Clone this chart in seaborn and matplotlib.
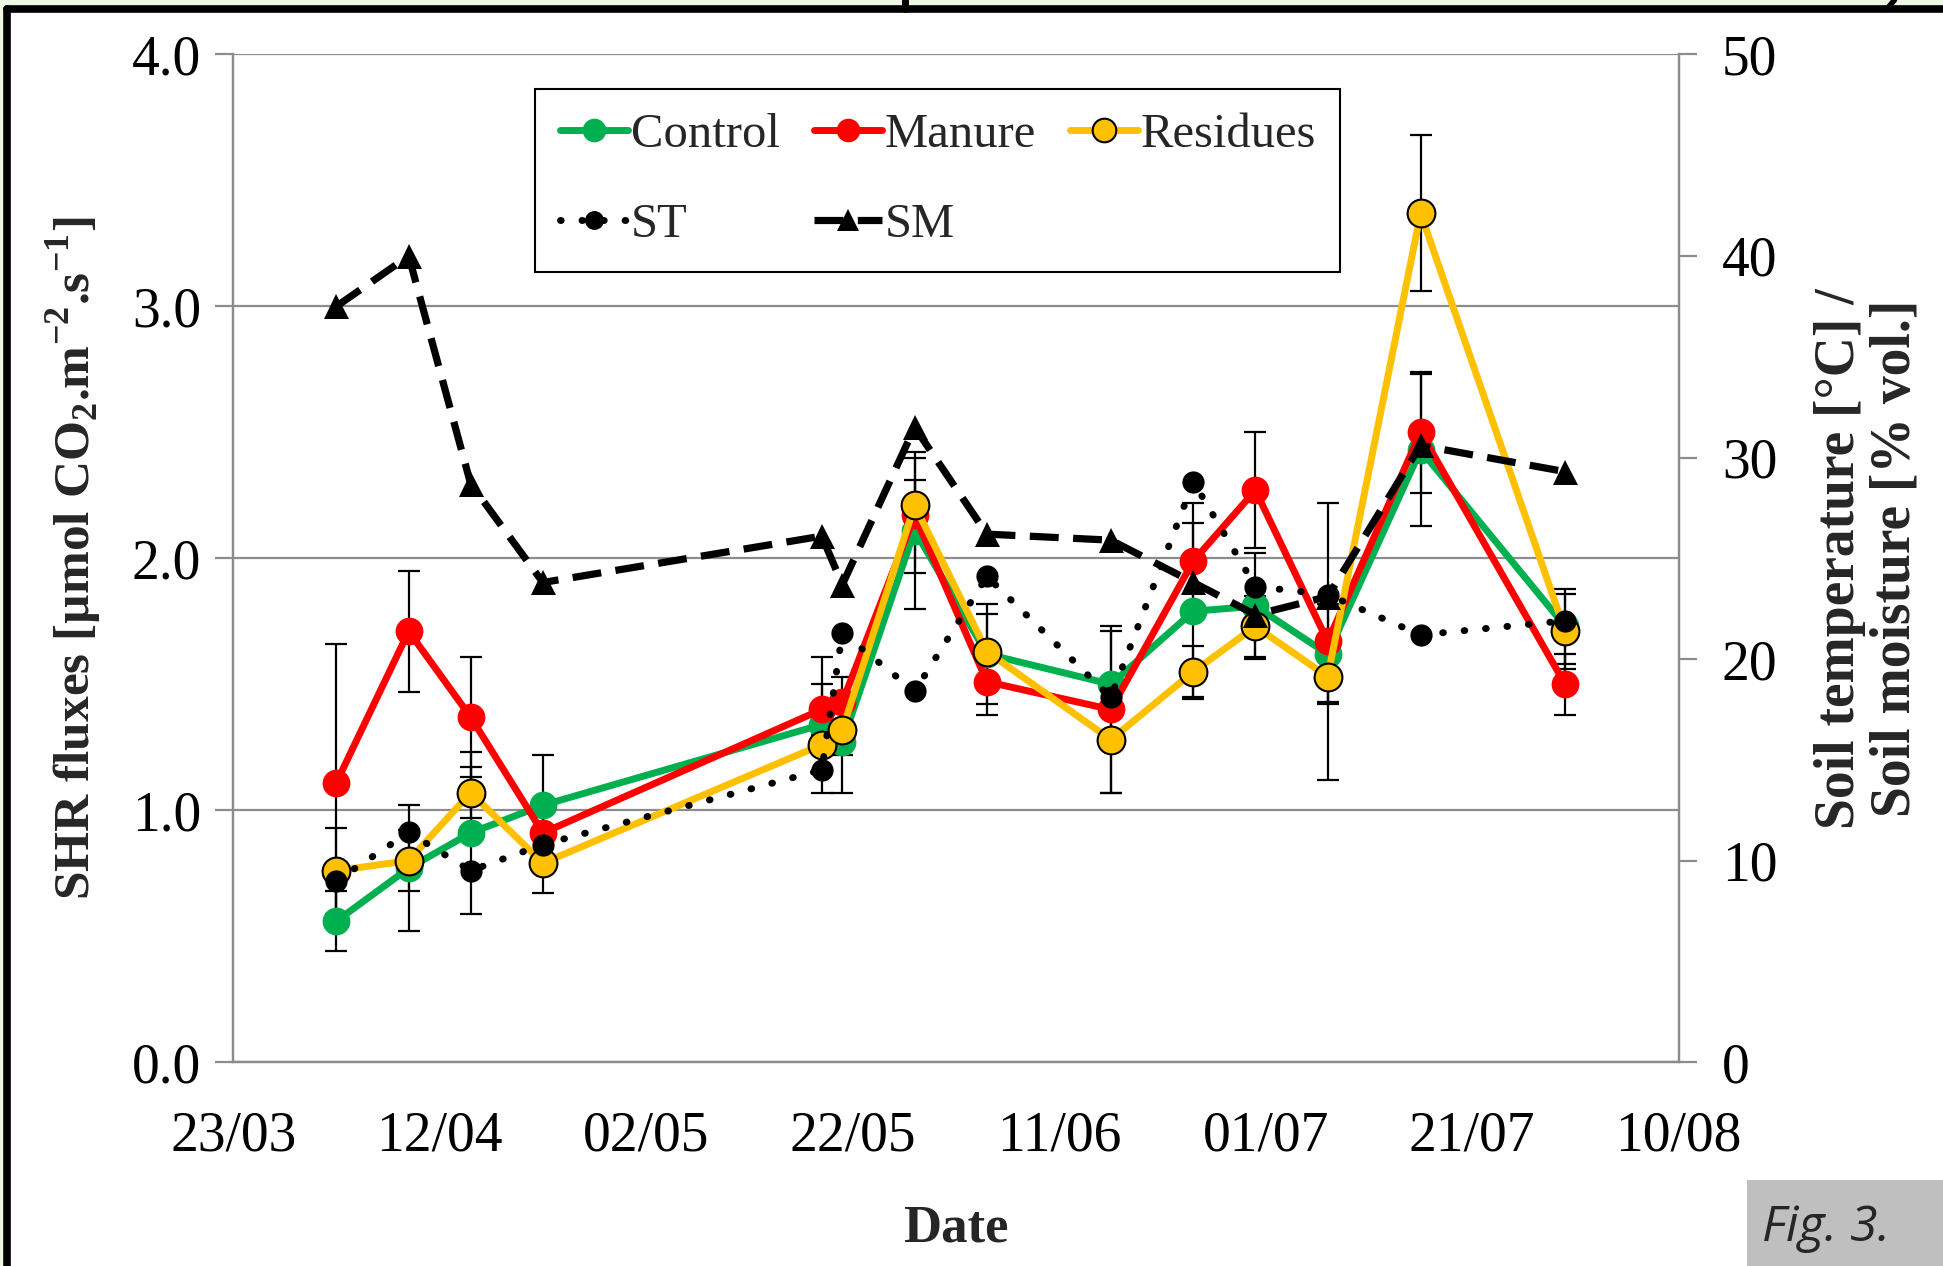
import matplotlib
matplotlib.use("Agg")
import matplotlib.pyplot as plt
import matplotlib.dates as mdates
from matplotlib.lines import Line2D
from matplotlib.patches import Rectangle
import numpy as np
import pandas as pd
import seaborn as sns

# sampling dates (2015 season)
dates = pd.to_datetime(["2015-04-02", "2015-04-09", "2015-04-15", "2015-04-22",
                        "2015-05-19", "2015-05-21", "2015-05-28", "2015-06-04",
                        "2015-06-16", "2015-06-24", "2015-06-30", "2015-07-07",
                        "2015-07-16", "2015-07-30"])

# SHR fluxes [umol CO2 m-2 s-1]
control = [0.56, 0.77, 0.91, 1.02, 1.34, 1.27, 2.11, 1.62, 1.50, 1.79, 1.81, 1.62, 2.43, 1.73]
manure = [1.11, 1.71, 1.37, 0.91, 1.40, 1.43, 2.17, 1.51, 1.40, 1.99, 2.27, 1.67, 2.50, 1.50]
residues = [0.76, 0.80, 1.07, 0.79, 1.26, 1.32, 2.21, 1.63, 1.28, 1.55, 1.73, 1.53, 3.37, 1.71]

control_err = [0.12, 0.25, 0.32, 0.20, 0.27, 0.20, 0.31, 0.20, 0.21, 0.35, 0.21, 0.20, 0.30, 0.15]
manure_err = [0.55, 0.24, 0.24, 0.10, 0.10, 0.10, 0.23, 0.13, 0.33, 0.23, 0.23, 0.55, 0.24, 0.12]
residues_err = [0.17, 0.12, 0.10, 0.12, 0.10, 0.10, 0.10, 0.15, 0.21, 0.10, 0.12, 0.10, 0.31, 0.15]

# soil temperature [degC] and soil moisture [% vol.]
st = [9.0, 11.4, 9.5, 10.8, 14.5, 21.3, 18.4, 24.1, 18.1, 28.8, 23.6, 23.2, 21.2, 21.9]
sm = [37.5, 40.0, 28.7, 23.8, 26.1, 23.7, 31.5, 26.2, 25.9, 23.8, 22.2, 23.1, 30.6, 29.3]

sns.set_style("white")
plt.rcParams["font.family"] = ["Liberation Serif", "DejaVu Serif"]
plt.rcParams["mathtext.fontset"] = "custom"
plt.rcParams["mathtext.rm"] = "Liberation Serif"
plt.rcParams["mathtext.bf"] = "Liberation Serif:bold"

GRID = "#8c8c8c"
TICK_FS = 40

fig = plt.figure(figsize=(19.43, 12.66), dpi=100)
fig.patch.set_facecolor("#eef6e4")
# white page with black frame (cropped from a larger document)
fig.patches.append(Rectangle((0.0025, 0), 1, 0.995, transform=fig.transFigure,
                             facecolor="white", edgecolor="none", zorder=-10))
fig.add_artist(Line2D([0.0035, 1], [0.9925, 0.9925], color="black", lw=5.5))
fig.add_artist(Line2D([0.0035, 0.0035], [0, 0.9925], color="black", lw=5.5))
fig.add_artist(Line2D([0.466, 0.466], [0.9925, 1], color="black", lw=5))
fig.add_artist(Line2D([0.971, 0.975], [0.9925, 1], color="black", lw=4))

ax = fig.add_axes([0.12, 0.161, 0.744, 0.796])
ax2 = ax.twinx()

treatments = [("Control", control, control_err, "#00b050", "none"),
              ("Manure", manure, manure_err, "#ff0000", "none"),
              ("Residues", residues, residues_err, "#ffc000", "black")]

for name, vals, err, col, edge in treatments:
    ax.errorbar(dates, vals, yerr=err, fmt="none", ecolor="black",
                elinewidth=1.6, capsize=8, capthick=1.6, zorder=2)
for name, vals, err, col, edge in treatments:
    sns.lineplot(x=dates, y=vals, ax=ax, color=col, linewidth=5, marker="o",
                 markersize=20, markeredgecolor=edge, markeredgewidth=1.5,
                 label=name, zorder=3)

sns.lineplot(x=dates, y=st, ax=ax2, color="black", linewidth=5,
             linestyle=(0, (0.1, 3.0)), dash_capstyle="round", marker="o",
             markersize=16, markeredgewidth=0, label="ST")
sns.lineplot(x=dates, y=sm, ax=ax2, color="black", linewidth=5.2,
             linestyle=(0, (4, 2)), marker="^", markersize=18,
             markeredgewidth=0, label="SM")

ax.set_ylim(0, 4)
ax.set_yticks(np.arange(0, 4.01, 1.0))
ax.set_yticklabels([f"{v:.1f}" for v in np.arange(0, 4.01, 1.0)])
ax2.set_ylim(0, 50)
ax2.set_yticks(range(0, 51, 10))

ax.set_xlim(pd.Timestamp("2015-03-23"), pd.Timestamp("2015-08-10"))
ticks = pd.date_range("2015-03-23", "2015-08-10", freq="20D")
ax.set_xticks(ticks)
ax.xaxis.set_major_formatter(mdates.DateFormatter("%d/%m"))

ax.yaxis.grid(True, color=GRID, lw=1.6)
ax.xaxis.grid(False)
ax.set_axisbelow(True)
for a in (ax, ax2):
    a.spines["top"].set_visible(False)
    for s in ("left", "right", "bottom"):
        a.spines[s].set_color(GRID)
        a.spines[s].set_linewidth(1.6)
    a.tick_params(axis="both", which="major", direction="out", length=13,
                  width=1.6, color=GRID, labelsize=TICK_FS, labelcolor="black")
ax.tick_params(axis="x", pad=22)
ax.tick_params(axis="y", pad=10)
ax2.tick_params(axis="y", pad=18)

ax.set_xlabel("Date", fontsize=38, fontweight="bold", labelpad=30)
ax.set_ylabel(r"SHR fluxes [µmol CO$_\mathbf{2}$.m$^\mathbf{-2}$.s$^\mathbf{-1}$]",
              fontsize=37, fontweight="bold", labelpad=20)
ax2.set_ylabel("Soil temperature [°C] /\nSoil moisture [% vol.]", fontsize=40,
               fontweight="bold", labelpad=26, linespacing=1.1)

# combined legend on the secondary axis
h1, l1 = ax.get_legend_handles_labels()
h2, l2 = ax2.get_legend_handles_labels()
if ax.get_legend():
    ax.get_legend().remove()
order_h = [h1[0], h2[0], h1[1], h2[1], h1[2]]
order_l = [l1[0], l2[0], l1[1], l2[1], l1[2]]
leg = ax2.legend(order_h, order_l, ncol=3, loc="upper left",
                 bbox_to_anchor=(0.209, 0.966), fontsize=35, frameon=True,
                 fancybox=False, edgecolor="black", framealpha=1,
                 handlelength=1.4, handletextpad=0.06, columnspacing=0.7,
                 labelspacing=0.95, borderpad=0.5, borderaxespad=0,
                 markerscale=0.85)
leg.get_frame().set_linewidth(1.5)

# figure tag
fig.patches.append(Rectangle((0.899, 0), 0.101, 0.068, transform=fig.transFigure,
                             facecolor="#bfbfbf", edgecolor="none", zorder=5))
fig.text(0.907, 0.03, "Fig. 3.", fontsize=36, style="italic",
         family=["Open Sans", "DejaVu Sans"], va="center", ha="left", zorder=6)

fig.savefig("out.png", dpi=100)
